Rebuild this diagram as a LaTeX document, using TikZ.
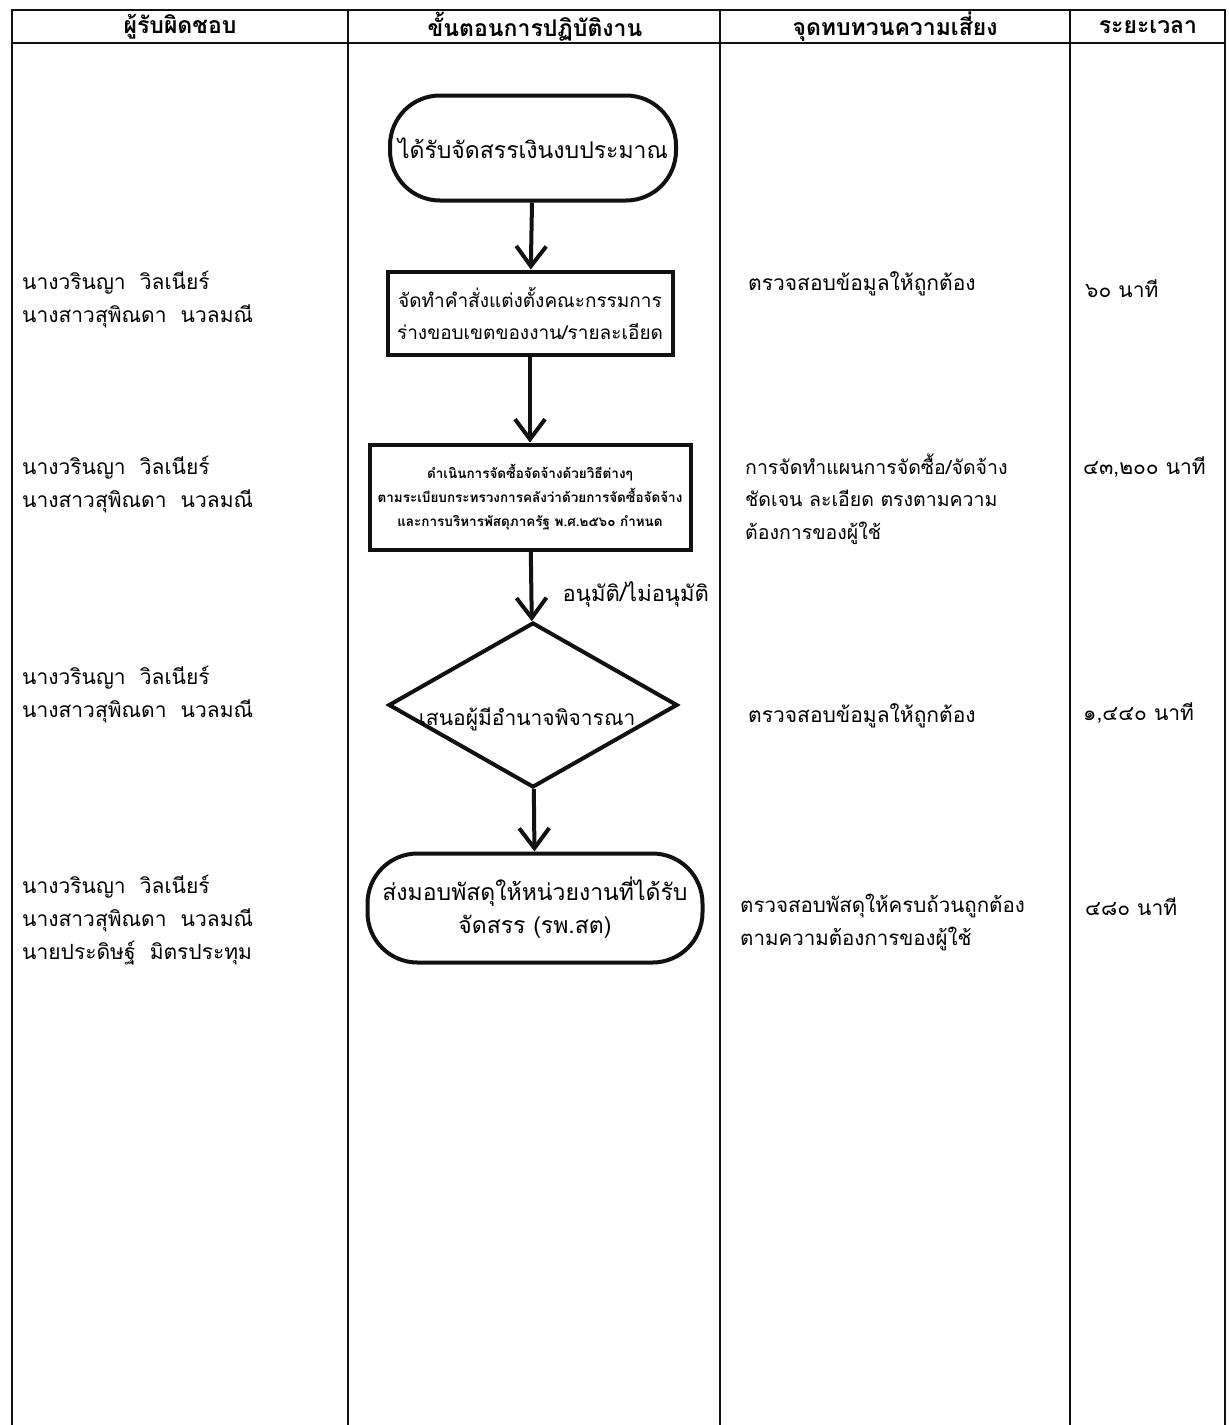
\documentclass[tikz,border=0pt]{standalone}
\usepackage{fontspec}
\setmainfont[Script=Thai]{Loma}
\usepackage{tikz}
\usetikzlibrary{arrows.meta,positioning,shapes.geometric}
\definecolor{flowink}{HTML}{111111}

\begin{document}
\begin{tikzpicture}[x=1pt,y=-1pt,
  grid/.style={line width=2pt,draw=flowink},
  terminal/.style={draw=flowink,line width=4pt,rounded corners=50pt,
                   align=center,inner sep=0pt},
  action/.style={draw=flowink,line width=4pt,align=center,inner sep=0pt},
  decision/.style={diamond,draw=flowink,line width=4pt,inner sep=0pt,
                   minimum width=289pt,minimum height=165pt,aspect=1.75},
  arr/.style={-{Straight Barb[length=20pt,width=30pt,line width=4pt]},
              line width=4pt,draw=flowink},
  head/.style={font=\fontsize{23}{26}\selectfont\bfseries,inner sep=0pt},
  cell/.style={anchor=base west,align=left,inner sep=0pt,
               font=\fontsize{21}{33}\selectfont},
]
\useasboundingbox (0,0) rectangle (1229,1425);
% table frame and columns
\draw[grid] (12,1425) -- (12,10) -- (1225,10) -- (1225,1425);
\draw[grid] (12,43) -- (1225,43);
\foreach \x in {348,720,1070}
  \draw[grid] (\x,10) -- (\x,1425);
\node[head] (hresp) at (180,27) {ผู้รับผิดชอบ};
\node[head] (hstep) at (535,27) {ขั้นตอนการปฏิบัติงาน};
\node[head] (hrisk) at (895,27) {จุดทบทวนความเสี่ยง};
\node[head] (htime) at (1148,27) {ระยะเวลา};

% flow
\node[terminal,minimum width=286pt,minimum height=105pt,
      font=\fontsize{23}{26}\selectfont] (start) at (533,148) {ได้รับจัดสรรเงินงบประมาณ};
\node[action,minimum width=285pt,minimum height=83pt,
      font=\fontsize{19}{32}\selectfont] (order) at (530,313)
  {จัดทำคำสั่งแต่งตั้งคณะกรรมการ\\ร่างขอบเขตของงาน/รายละเอียด};
\node[action,minimum width=321pt,minimum height=105pt,
      font=\fontsize{13.5}{24}\selectfont\bfseries] (procure) at (530,497)
  {ดำเนินการจัดซื้อจัดจ้างด้วยวิธีต่างๆ\\ตามระเบียบกระทรวงการคลังว่าด้วยการจัดซื้อจัดจ้าง\\และการบริหารพัสดุภาครัฐ พ.ศ.๒๕๖๐ กำหนด};
\node[decision,font=\fontsize{21}{24}\selectfont] (approve) at (533,705)
  {\raisebox{-20pt}[0pt][0pt]{\hspace*{-12pt}เสนอผู้มีอำนาจพิจารณา}};
\node[terminal,minimum width=335pt,minimum height=109pt,
      font=\fontsize{23}{33}\selectfont] (deliver) at (535,908)
  {ส่งมอบพัสดุให้หน่วยงานที่ได้รับ\\จัดสรร (รพ.สต)};

\draw[arr] (start) -- (order);
\draw[arr] (order) -- (procure);
\draw[arr] (procure) -- node[pos=0.62,anchor=west,xshift=26pt,
  font=\fontsize{22}{24}\selectfont] (result) {อนุมัติ/ไม่อนุมัติ} (approve);
\draw[arr] (approve) -- (deliver);

% responsible persons
\node[cell] (resp1) at (22,322) {นางวรินญา~ วิลเนียร์\\นางสาวสุพิณดา~ นวลมณี};
\node[cell] (resp2) at (22,507) {นางวรินญา~ วิลเนียร์\\นางสาวสุพิณดา~ นวลมณี};
\node[cell] (resp3) at (22,717) {นางวรินญา~ วิลเนียร์\\นางสาวสุพิณดา~ นวลมณี};
\node[cell] (resp4) at (22,959) {นางวรินญา~ วิลเนียร์\\นางสาวสุพิณดา~ นวลมณี\\นายประดิษฐ์~ มิตรประทุม};

% risk review points
\node[cell] (risk1) at (748,290) {ตรวจสอบข้อมูลให้ถูกต้อง};
\node[cell,font=\fontsize{19.5}{32.5}\selectfont] (risk2) at (745,539)
  {การจัดทำแผนการจัดซื้อ/จัดจ้าง\\ชัดเจน ละเอียด ตรงตามความ\\ต้องการของผู้ใช้};
\node[cell] (risk3) at (748,722) {ตรวจสอบข้อมูลให้ถูกต้อง};
\node[cell,font=\fontsize{20.5}{33}\selectfont] (risk4) at (740,945)
  {ตรวจสอบพัสดุให้ครบถ้วนถูกต้อง\\ตามความต้องการของผู้ใช้};

% time
\node[cell] (time1) at (1085,297) {๖๐ นาที};
\node[cell] (time2) at (1083,474) {๔๓,๒๐๐ นาที};
\node[cell] (time3) at (1083,720) {๑,๔๔๐ นาที};
\node[cell] (time4) at (1085,915) {๔๘๐ นาที};
\end{tikzpicture}
\end{document}
